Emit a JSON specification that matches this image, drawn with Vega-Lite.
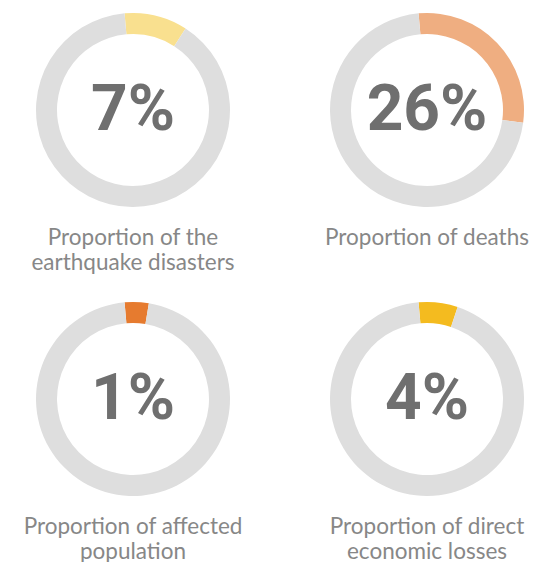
{
  "$schema": "https://vega.github.io/schema/vega-lite/v6.json",
  "padding": {"left": 8, "top": 10, "right": 0, "bottom": 0},
  "background": "white",
  "data": {
    "values": [
      {"panel": 1, "title": "Proportion of the|earthquake disasters", "pct": "7%", "part": "share", "ord": 1, "value": 10.5},
      {"panel": 1, "title": "Proportion of the|earthquake disasters", "pct": "7%", "part": "rest", "ord": 2, "value": 89.5},
      {"panel": 2, "title": "Proportion of deaths", "pct": "26%", "part": "share", "ord": 1, "value": 28.5},
      {"panel": 2, "title": "Proportion of deaths", "pct": "26%", "part": "rest", "ord": 2, "value": 71.5},
      {"panel": 3, "title": "Proportion of affected|population", "pct": "1%", "part": "share", "ord": 1, "value": 4},
      {"panel": 3, "title": "Proportion of affected|population", "pct": "1%", "part": "rest", "ord": 2, "value": 96},
      {"panel": 4, "title": "Proportion of direct|economic losses", "pct": "4%", "part": "share", "ord": 1, "value": 6.5},
      {"panel": 4, "title": "Proportion of direct|economic losses", "pct": "4%", "part": "rest", "ord": 2, "value": 93.5}
    ]
  },
  "facet": {
    "field": "title",
    "type": "nominal",
    "sort": {"field": "panel"},
    "title": null,
    "header": {
      "labelOrient": "bottom",
      "labelExpr": "split(datum.value, '|')",
      "labelFont": "Lato",
      "labelFontSize": 22.5,
      "labelFontWeight": "normal",
      "labelColor": "#878787",
      "labelLineHeight": 25,
      "labelPadding": 17
    }
  },
  "columns": 2,
  "spacing": {"column": 44, "row": 24},
  "spec": {
    "width": 250,
    "height": 200,
    "layer": [
      {
        "mark": {"type": "arc", "outerRadius": 97, "innerRadius": 76},
        "encoding": {
          "theta": {"field": "value", "type": "quantitative", "stack": true, "scale": {"range": [-0.087, 6.196]}},
          "order": {"field": "ord", "type": "quantitative"},
          "color": {
            "field": "colorKey",
            "type": "nominal",
            "scale": {
              "domain": ["1-share", "2-share", "3-share", "4-share", "rest"],
              "range": ["#f9e08f", "#efae81", "#e67b2f", "#f4bb1f", "#dedede"]
            },
            "legend": null
          }
        },
        "transform": [
          {"calculate": "datum.part == 'rest' ? 'rest' : datum.panel + '-share'", "as": "colorKey"}
        ]
      },
      {
        "transform": [{"filter": "datum.ord == 1"}],
        "mark": {"type": "text", "font": "Roboto", "fontWeight": "bold", "fontSize": 64, "color": "#6f6f6f", "baseline": "middle", "align": "center", "dy": 1},
        "encoding": {"text": {"field": "pct"}}
      }
    ]
  }
}
